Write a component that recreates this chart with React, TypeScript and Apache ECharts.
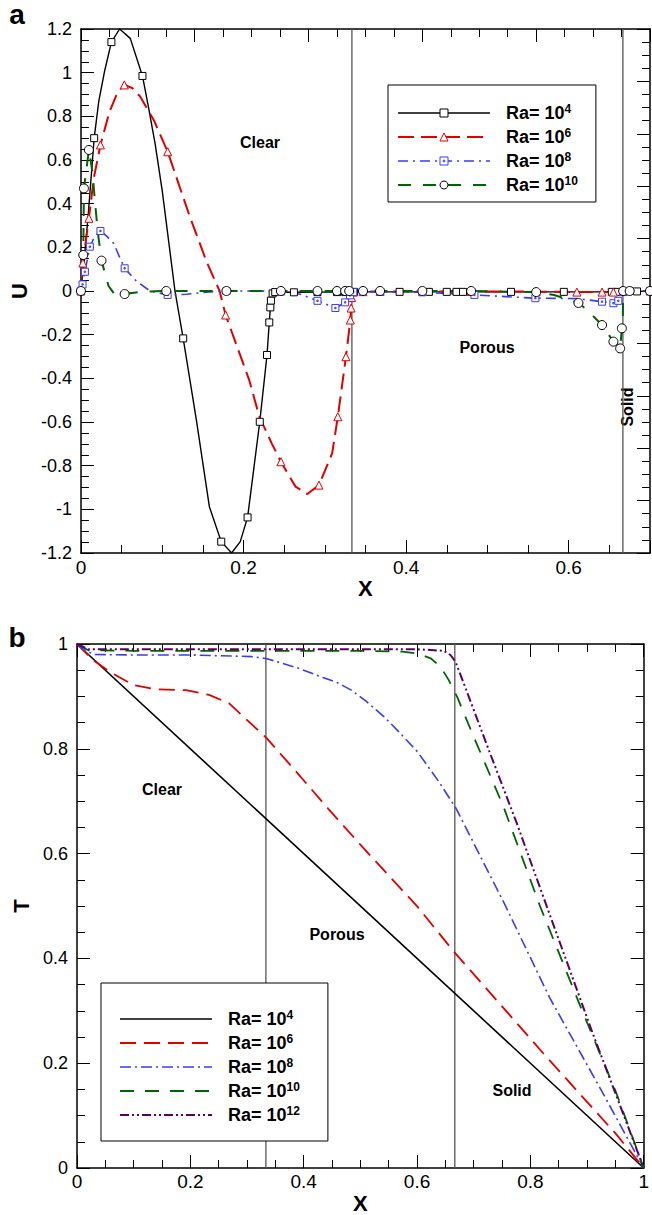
import React, { useEffect, useRef } from 'react';
import * as echarts from 'echarts';

const FONT = '"Liberation Sans", Arial, Helvetica, sans-serif';

// ---------- Panel a : U vs X ----------
const uX4 = [0, 0.004, 0.009, 0.0163, 0.022, 0.0293, 0.0375, 0.0476, 0.0607, 0.0757, 0.083, 0.0912, 0.1, 0.1157, 0.1258, 0.142, 0.158, 0.1726, 0.1853, 0.196, 0.205, 0.22, 0.2289, 0.2317, 0.233, 0.2337, 0.2358, 0.239, 0.262, 0.291, 0.315, 0.325, 0.331, 0.336, 0.392, 0.428, 0.45, 0.462, 0.47, 0.529, 0.594, 0.653, 0.66, 0.667, 0.684, 0.7];
const uY4 = [0, 0.14, 0.35, 0.7, 0.87, 1.01, 1.14, 1.2, 1.157, 0.985, 0.844, 0.676, 0.46, 0, -0.217, -0.59, -0.988, -1.148, -1.2, -1.148, -1.037, -0.599, -0.293, -0.144, -0.075, -0.044, -0.011, -0.005, -0.006, -0.005, -0.005, -0.005, -0.004, -0.004, -0.004, -0.004, -0.004, -0.004, -0.004, -0.004, -0.004, -0.004, -0.004, -0.003, -0.002, 0];
const uM4 = [1, 0, 0, 1, 0, 0, 1, 0, 0, 1, 0, 0, 0, 0, 1, 0, 0, 1, 0, 0, 1, 1, 1, 1, 1, 1, 1, 1, 1, 1, 1, 1, 1, 1, 1, 1, 1, 1, 1, 1, 1, 1, 1, 1, 1, 1];

const uX6 = [0, 0.0024, 0.0098, 0.016, 0.024, 0.035, 0.045, 0.0534, 0.063, 0.073, 0.09, 0.1067, 0.134, 0.155, 0.1706, 0.178, 0.207, 0.2195, 0.235, 0.246, 0.264, 0.2785, 0.2928, 0.309, 0.316, 0.326, 0.3314, 0.3323, 0.333, 0.335, 0.347, 0.368, 0.42, 0.48, 0.56, 0.61, 0.641, 0.655, 0.667, 0.7];
const uY6 = [0, 0.128, 0.333, 0.52, 0.669, 0.82, 0.91, 0.944, 0.93, 0.89, 0.78, 0.638, 0.34, 0.13, 0, -0.11, -0.408, -0.576, -0.7, -0.782, -0.896, -0.93, -0.889, -0.744, -0.576, -0.301, -0.133, -0.078, -0.03, -0.005, -0.003, -0.002, -0.002, -0.002, -0.003, -0.005, -0.005, -0.005, -0.002, 0];
const uM6 = [1, 1, 1, 0, 1, 0, 0, 1, 0, 0, 0, 1, 0, 0, 0, 1, 0, 0, 0, 1, 0, 0, 1, 0, 1, 1, 1, 1, 1, 1, 1, 1, 1, 1, 1, 1, 1, 1, 1, 1];

const uX8 = [0, 0.002, 0.0049, 0.011, 0.017, 0.024, 0.032, 0.0403, 0.047, 0.0538, 0.0688, 0.085, 0.1067, 0.13, 0.155, 0.179, 0.22, 0.246, 0.27, 0.291, 0.313, 0.325, 0.331, 0.335, 0.347, 0.368, 0.42, 0.484, 0.559, 0.612, 0.641, 0.655, 0.661, 0.667, 0.675, 0.7];
const uY8 = [0, 0.03, 0.088, 0.203, 0.25, 0.275, 0.25, 0.218, 0.16, 0.104, 0.043, 0, -0.018, -0.015, -0.005, 0, 0, -0.003, -0.015, -0.045, -0.078, -0.052, -0.02, -0.005, -0.003, -0.004, -0.006, -0.018, -0.033, -0.035, -0.049, -0.056, -0.045, -0.005, 0, 0];
const uM8 = [1, 1, 1, 1, 0, 1, 0, 0, 0, 1, 0, 0, 1, 0, 0, 1, 0, 1, 0, 1, 1, 1, 1, 1, 1, 1, 1, 1, 1, 0, 1, 1, 1, 1, 1, 1];

const uX10 = [0, 0.0029, 0.0037, 0.0098, 0.014, 0.018, 0.021, 0.0253, 0.034, 0.042, 0.0538, 0.075, 0.105, 0.179, 0.246, 0.291, 0.315, 0.325, 0.33, 0.347, 0.368, 0.42, 0.48, 0.56, 0.582, 0.612, 0.6226, 0.641, 0.655, 0.6633, 0.6654, 0.6666, 0.667, 0.675, 0.7];
const uY10 = [0, 0.165, 0.47, 0.646, 0.55, 0.38, 0.264, 0.139, 0.023, -0.018, -0.014, -0.003, 0, 0, 0, 0, 0, 0, 0, 0, 0, 0, 0, -0.005, -0.018, -0.055, -0.087, -0.156, -0.232, -0.263, -0.171, -0.124, 0, 0, 0];
const uM10 = [1, 1, 1, 1, 0, 0, 0, 1, 0, 0, 1, 0, 1, 1, 1, 1, 1, 1, 1, 1, 1, 1, 1, 1, 0, 1, 0, 1, 1, 1, 1, 0, 1, 1, 1];

// ---------- Panel b : T vs X ----------
const tX4 = [0, 1];
const tY4 = [1, 0];
const tX6 = [0, 0.03, 0.0578, 0.0986, 0.1395, 0.192, 0.233, 0.268, 0.297, 0.335, 0.379, 0.443, 0.5, 0.6007, 0.665, 0.8226, 0.951, 1];
const tY6 = [1, 0.968, 0.947, 0.922, 0.9135, 0.912, 0.903, 0.887, 0.858, 0.82, 0.766, 0.686, 0.617, 0.4987, 0.413, 0.219, 0.065, 0];
const tX8 = [0, 0.01, 0.03, 0.0986, 0.2, 0.309, 0.335, 0.39, 0.434, 0.46, 0.484, 0.51, 0.542, 0.57, 0.6007, 0.6387, 0.669, 0.7553, 0.834, 0.9217, 1];
const tY8 = [1, 0.99, 0.98, 0.979, 0.979, 0.976, 0.972, 0.954, 0.936, 0.926, 0.912, 0.891, 0.861, 0.83, 0.7945, 0.737, 0.686, 0.502, 0.325, 0.155, 0];
const tX10 = [0, 0.02, 0.1, 0.3, 0.5, 0.5744, 0.6007, 0.624, 0.6415, 0.656, 0.6708, 0.7, 0.7525, 0.8166, 0.8926, 0.951, 1];
const tY10 = [1, 0.988, 0.987, 0.987, 0.987, 0.9853, 0.982, 0.9727, 0.9567, 0.931, 0.899, 0.823, 0.6896, 0.501, 0.297, 0.145, 0];
const tX12 = [0, 0.02, 0.3, 0.6, 0.6474, 0.659, 0.668, 0.6824, 0.729, 0.776, 0.828, 0.91, 0.986, 1];
const tY12 = [1, 0.99, 0.99, 0.99, 0.987, 0.979, 0.966, 0.925, 0.791, 0.658, 0.502, 0.257, 0.04, 0];

// region boundaries (clear | porous | solid)
const boundaries = [1 / 3, 2 / 3];
const uRange = [-1.2, 1.2];
const tRange = [0, 1];

const exponents = ['4', '6', '8', '10', '12'];
const namesA = exponents.slice(0, 4).map((e) => 'U: Ra= 10^' + e);
const namesB = exponents.map((e) => 'T: Ra= 10^' + e);

const C_BLACK = '#000000';
const C_RED = '#e00000';
const C_BLUE = '#3a3aff';
const C_GREEN = '#006400';
const C_PURPLE = '#5a0060';

function pts(xs: number[], ys: number[], marks?: number[]) {
  return xs.map((x, i) => {
    if (!marks) return [x, ys[i]];
    return marks[i] ? [x, ys[i]] : { value: [x, ys[i]], symbol: 'none' };
  });
}

const axisLineStyle = { onZero: false, lineStyle: { color: '#000', width: 1.5 } };
const tickStyle = { inside: true, length: 13, lineStyle: { color: '#000', width: 1 } };
const minorStyle = { show: true, splitNumber: 4, length: 8, lineStyle: { color: '#000', width: 1 } };
const nameStyle = { fontSize: 22, fontWeight: 'bold', color: '#000', fontFamily: FONT };

function xAxisDef(grid: number, pos: string, max: number, labels: boolean, extra: any = {}) {
  return {
    type: 'value', gridIndex: grid, position: pos, min: 0, max, interval: 0.2,
    axisLine: axisLineStyle, axisTick: tickStyle, minorTick: minorStyle,
    splitLine: { show: false }, minorSplitLine: { show: false },
    axisLabel: labels
      ? { show: true, fontSize: 19, color: '#000', fontFamily: FONT, margin: 5, ...(extra.label || {}) }
      : { show: false },
    ...(labels ? { name: 'X', nameLocation: 'middle', nameGap: extra.nameGap ?? 24, nameTextStyle: nameStyle } : {}),
  };
}

function yAxisDef(grid: number, pos: string, min: number, max: number, interval: number, name: string | null) {
  return {
    type: 'value', gridIndex: grid, position: pos, min, max, interval,
    axisLine: axisLineStyle, axisTick: tickStyle, minorTick: minorStyle,
    splitLine: { show: false }, minorSplitLine: { show: false },
    axisLabel: name ? { show: true, fontSize: 18, color: '#000', fontFamily: FONT, margin: 9 } : { show: false },
    ...(name ? { name, nameLocation: 'middle', nameGap: 41, nameRotate: 90, nameTextStyle: nameStyle } : {}),
  };
}

function boundarySeries(xi: number, yi: number, range: number[]) {
  return boundaries.map((b, k) => ({
    type: 'line', name: 'boundary' + xi + k, xAxisIndex: xi, yAxisIndex: yi,
    data: [[b, range[0]], [b, range[1]]], symbol: 'none', silent: true, z: 1,
    lineStyle: { color: '#555', width: 1.3 },
  }));
}

function lineSeries(name: string, xi: number, yi: number, data: any[], color: string, width: number, dash: any, symbol: string, size: number, border: string) {
  return {
    type: 'line', name, xAxisIndex: xi, yAxisIndex: yi, data,
    symbol, symbolSize: size, showSymbol: symbol !== 'none',
    smooth: false,
    lineStyle: { color, width, type: dash },
    itemStyle: { color: '#fff', borderColor: border, borderWidth: 1 },
    emphasis: { disabled: true },
    z: 3,
  };
}

const rich = {
  b: { fontFamily: FONT, fontSize: 18, fontWeight: 'bold', color: '#000', lineHeight: 20, padding: [0, 0, 0, 11] },
  s: { fontFamily: FONT, fontSize: 12, fontWeight: 'bold', color: '#000', lineHeight: 14, verticalAlign: 'top' },
};
const legendFormatter = (name: string) => {
  const e = name.split('^')[1];
  return '{b|Ra= 10}{s|' + e + '}';
};

function textEl(text: string, x: number, y: number, size: number, rotation = 0) {
  return {
    type: 'text', x, y, rotation, silent: true,
    style: {
      text, fontSize: size, fontWeight: 'bold', fontFamily: FONT, fill: '#000',
      align: 'center', verticalAlign: 'middle', textAlign: 'center', textVerticalAlign: 'middle',
    },
  };
}

export default function App() {
  const ref = useRef<HTMLDivElement>(null);
  useEffect(() => {
    if (!ref.current) return;
    const chart = echarts.init(ref.current, undefined, { renderer: 'svg' });
    const option: any = {
      animation: false,
      backgroundColor: '#fff',
      textStyle: { fontFamily: FONT },
      grid: [
        { left: 77, top: 29, width: 573, height: 524 },
        { left: 77, top: 644, width: 572, height: 524 },
      ],
      xAxis: [
        xAxisDef(0, 'bottom', 0.7, true, { label: { showMaxLabel: false }, nameGap: 24 }),
        xAxisDef(0, 'top', 1, false),
        xAxisDef(1, 'bottom', 1, true, { nameGap: 24, label: { margin: 4 } }),
        xAxisDef(1, 'top', 1, false),
      ],
      yAxis: [
        yAxisDef(0, 'left', uRange[0], uRange[1], 0.2, 'U'),
        yAxisDef(0, 'right', 0, 1, 0.1, null),
        yAxisDef(1, 'left', tRange[0], tRange[1], 0.2, 'T'),
        yAxisDef(1, 'right', 0, 1, 0.2, null),
      ],
      legend: [
        {
          data: namesA, orient: 'vertical', left: 388, top: 85, selectedMode: false,
          itemWidth: 92, itemHeight: 10, itemGap: 5, padding: [18, 18, 8, 9],
          borderColor: '#000', borderWidth: 1, backgroundColor: '#fff',
          itemStyle: { borderWidth: 1 }, lineStyle: { width: 'inherit' },
          formatter: legendFormatter, textStyle: { rich },
        },
        {
          data: namesB, orient: 'vertical', left: 101, top: 983, selectedMode: false,
          itemWidth: 92, itemHeight: 10, itemGap: 5, padding: [26, 28, 17, 18],
          borderColor: '#000', borderWidth: 1, backgroundColor: '#fff',
          itemStyle: { opacity: 0, borderWidth: 0 }, lineStyle: { width: 'inherit' },
          formatter: legendFormatter, textStyle: { rich },
        },
      ],
      series: [
        ...boundarySeries(0, 0, uRange),
        ...boundarySeries(2, 2, tRange),
        lineSeries(namesA[0], 0, 0, pts(uX4, uY4, uM4), C_BLACK, 1.4, 'solid', 'rect', 7, C_BLACK),
        lineSeries(namesA[1], 0, 0, pts(uX6, uY6, uM6), C_RED, 2, [16, 7], 'triangle', 8, C_RED),
        lineSeries(namesA[2], 0, 0, pts(uX8, uY8, uM8), C_BLUE, 1.6, [10, 5, 2, 5], 'path://M0,0H10V10H0Z M4,4H6V6H4Z', 7, C_BLUE),
        lineSeries(namesA[3], 0, 0, pts(uX10, uY10, uM10), C_GREEN, 2, [13, 12], 'circle', 9, C_BLACK),
        lineSeries(namesB[0], 2, 2, pts(tX4, tY4), C_BLACK, 1.6, 'solid', 'none', 0, C_BLACK),
        lineSeries(namesB[1], 2, 2, pts(tX6, tY6), C_RED, 1.8, [16, 8], 'none', 0, C_RED),
        lineSeries(namesB[2], 2, 2, pts(tX8, tY8), C_BLUE, 1.6, [11, 4, 2, 4], 'none', 0, C_BLUE),
        lineSeries(namesB[3], 2, 2, pts(tX10, tY10), C_GREEN, 1.8, [14, 11], 'none', 0, C_GREEN),
        lineSeries(namesB[4], 2, 2, pts(tX12, tY12), C_PURPLE, 2, [9, 3, 2, 3, 2, 3], 'none', 0, C_PURPLE),
      ],
      graphic: [
        textEl('a', 17, 14, 28),
        textEl('b', 17, 637, 28),
        textEl('Clear', 260, 142, 16),
        textEl('Porous', 487, 347, 16),
        textEl('Solid', 627, 407, 16, Math.PI / 2),
        textEl('Clear', 162, 789, 16),
        textEl('Porous', 337, 934, 16),
        textEl('Solid', 512, 1090, 16),
      ],
    };
    chart.setOption(option);
    return () => chart.dispose();
  }, []);
  return (
    <div
      ref={ref}
      style={{ position: 'absolute', left: 0, top: 0, width: 652, height: 1215, background: '#fff' }}
    />
  );
}
